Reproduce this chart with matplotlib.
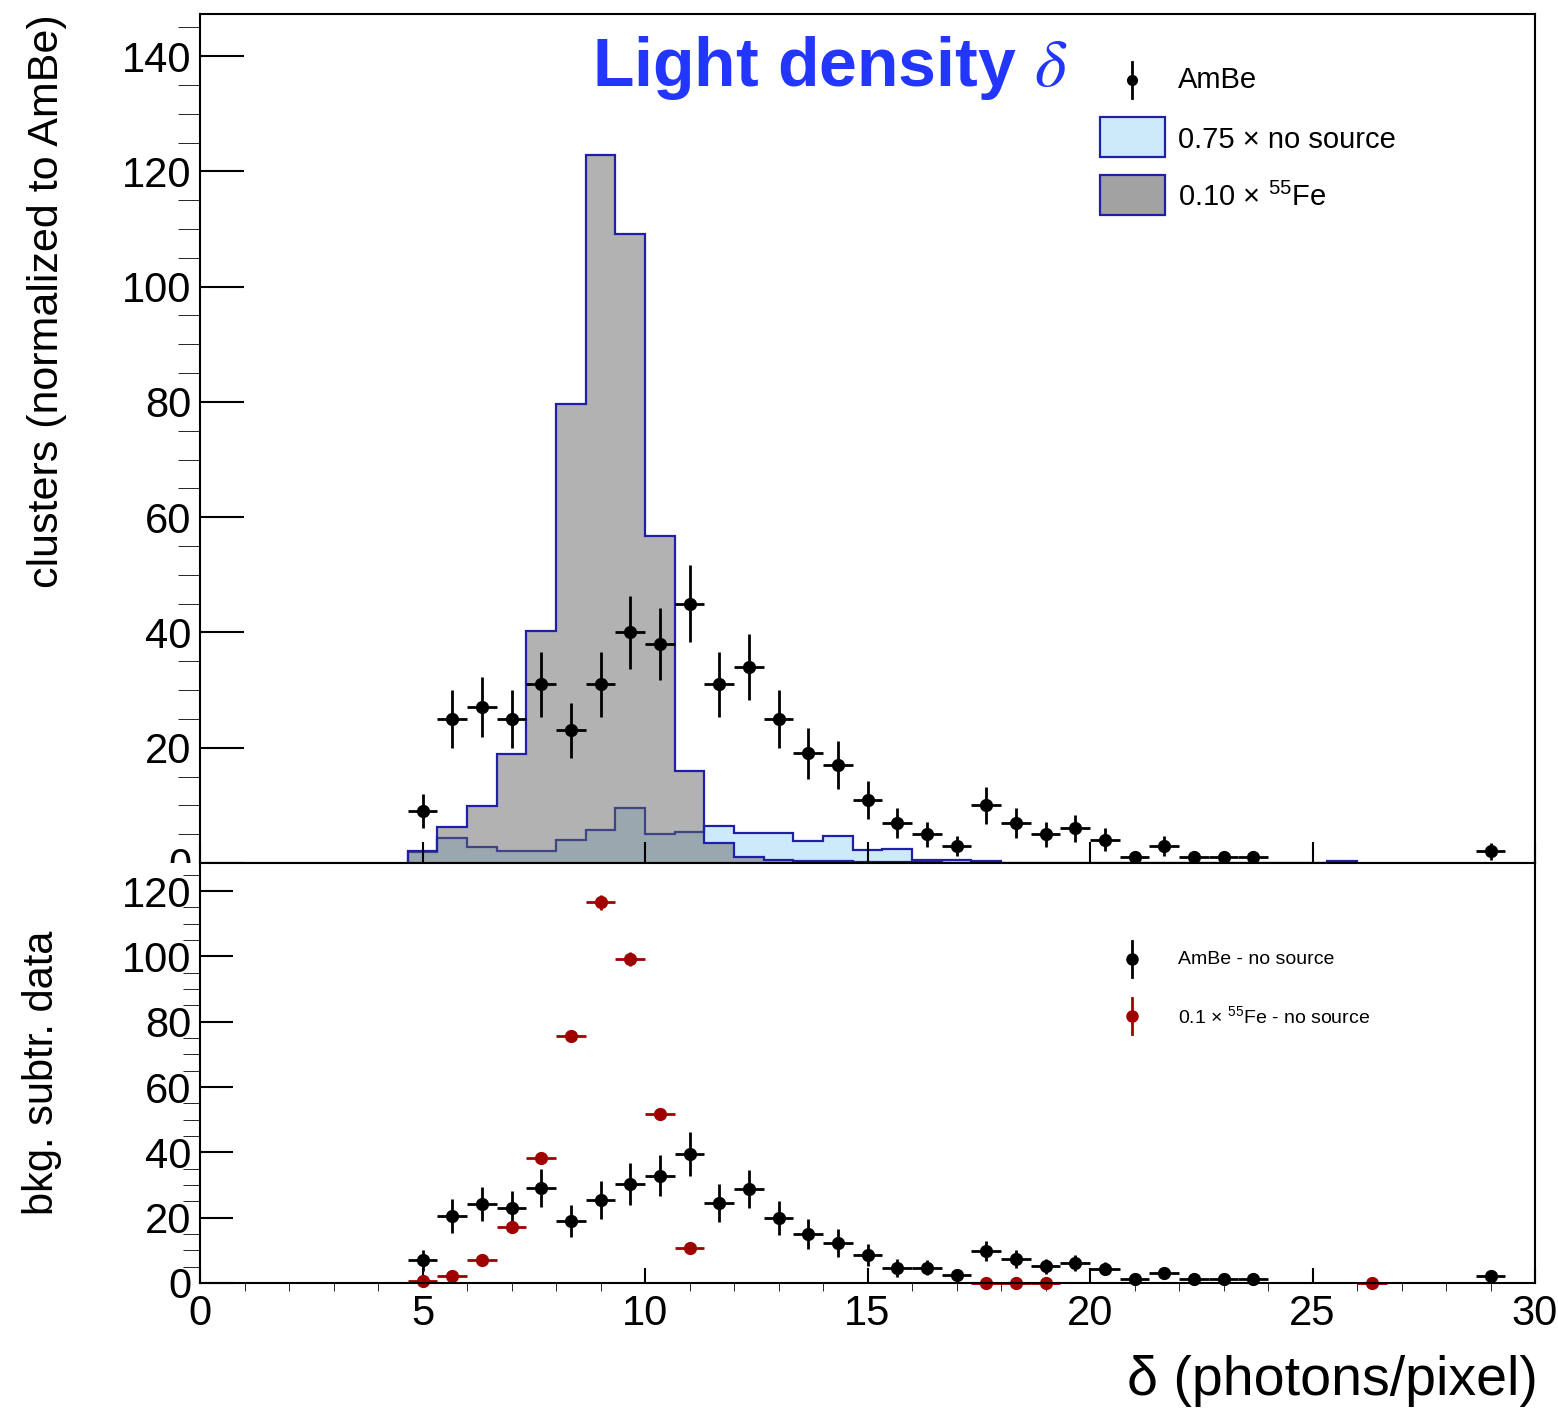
import numpy as np
import matplotlib
matplotlib.use("Agg")
import matplotlib.pyplot as plt
from matplotlib.patches import Rectangle
from matplotlib.lines import Line2D
from matplotlib.ticker import MultipleLocator

plt.rcParams['font.family'] = ['Liberation Sans', 'DejaVu Sans']
plt.rcParams['mathtext.fontset'] = 'custom'
plt.rcParams['mathtext.rm'] = 'Liberation Sans'
plt.rcParams['mathtext.it'] = 'Liberation Sans:italic'
plt.rcParams['mathtext.bf'] = 'Liberation Sans:bold'

# 45 bins of 2/3 photons/pixel between 0 and 30
edges = np.linspace(0, 30, 46)
centers = 0.5 * (edges[:-1] + edges[1:])

# histograms, first filled bin is bin 7 (delta = 4.67)
hist_first = 7
fe55_scaled = [2.0, 6.3, 9.9, 18.9, 40.2, 79.6, 122.8, 109.1, 56.7, 16.0,
               3.4, 1.1, 0.5, 0.3, 0.3, 0.2, 0.1, 0.1, 0.0, 0.0]
nosrc_scaled = [1.9, 4.3, 2.8, 2.0, 2.0, 4.0, 5.8, 9.5, 5.0, 5.3,
                6.4, 5.2, 5.2, 3.9, 4.7, 2.3, 2.5, 0.5, 0.5, 0.3,
                0, 0, 0, 0, 0, 0, 0, 0, 0, 0, 0, 0.3]

# AmBe data points (upper pad)
ambe_bins = list(range(7, 36)) + [43]
ambe = [9, 25, 27, 25, 31, 23, 31, 40, 38, 45, 31, 34, 25, 19, 17, 11, 7, 5, 3,
        10, 7, 5, 6, 4, 1, 3, 1, 1, 1, 2]
ambe_err = [3.0, 5.0, 5.2, 5.0, 5.6, 4.8, 5.6, 6.3, 6.2, 6.7, 5.6, 5.8, 5.0,
            4.4, 4.1, 3.3, 2.6, 2.2, 1.7, 3.2, 2.6, 2.2, 2.4, 2.0, 1.0, 1.7,
            1.0, 1.0, 1.0, 1.4]

# background subtracted (lower pad)
ambe_sub = [7.0, 20.5, 24.2, 23.0, 29.1, 19.0, 25.4, 30.3, 32.8, 39.5, 24.5,
            28.8, 19.9, 15.0, 12.2, 8.6, 4.6, 4.6, 2.4, 9.8, 7.3, 5.2, 6.1,
            4.3, 1.2, 3.1, 1.2, 1.2, 1.2, 2.1]
ambe_sub_err = [3.2, 5.1, 5.3, 5.1, 5.7, 4.9, 5.7, 6.5, 6.3, 6.8, 5.7, 5.9,
                5.1, 4.5, 4.2, 3.4, 2.7, 2.3, 1.8, 3.2, 2.7, 2.3, 2.5, 2.0,
                1.0, 1.7, 1.0, 1.0, 1.0, 1.4]

fe_sub_bins = list(range(7, 17)) + [26, 27, 28, 39]
fe_sub = [0.6, 2.1, 7.0, 17.1, 38.3, 75.6, 116.6, 99.2, 51.7, 10.7, 0, 0, 0, 0]
fe_sub_err = [0.4, 0.6, 0.9, 1.2, 1.5, 1.9, 2.3, 2.2, 1.6, 1.0,
              0.2, 0.2, 0.2, 0.2]

W, H = 1558, 1412
BLUE = '#1f1fa8'
RED = '#a00000'


def fx(x):
    return x / W


def fy(y):
    return (H - y) / H


fig = plt.figure(figsize=(W / 100, H / 100), dpi=100)
ax1 = fig.add_axes([fx(200), fy(863), 1335 / W, 849 / H])
ax2 = fig.add_axes([fx(200), fy(1283), 1335 / W, 420 / H])
ax2.set_zorder(2)

# ---- upper pad
ax1.stairs(nosrc_scaled, edges[hist_first:hist_first + len(nosrc_scaled) + 1],
           fill=True, facecolor='#cdeafa', edgecolor=BLUE, linewidth=1.6)
ax1.stairs(fe55_scaled, edges[hist_first:hist_first + len(fe55_scaled) + 1],
           fill=True, facecolor=(0.4, 0.4, 0.4, 0.5), edgecolor=BLUE,
           linewidth=1.6)
ax1.errorbar(centers[ambe_bins], ambe, yerr=ambe_err, xerr=1 / 3, fmt='o',
             color='black', ms=8.5, elinewidth=2, capsize=0)

ax1.set_xlim(0, 30)
ax1.set_ylim(0, 147.3)
ax1.xaxis.set_major_locator(MultipleLocator(5))
ax1.xaxis.set_minor_locator(MultipleLocator(1))
ax1.yaxis.set_major_locator(MultipleLocator(20))
ax1.yaxis.set_minor_locator(MultipleLocator(5))
ax1.tick_params(direction='in', width=1.5, labelsize=30, pad=6)
ax1.tick_params(axis='y', which='major', length=32)
ax1.tick_params(axis='y', which='minor', length=16)
ax1.tick_params(axis='x', which='major', length=15, labelbottom=False)
ax1.tick_params(axis='x', which='minor', length=7)
ax1.set_ylabel('clusters (normalized to AmBe)', fontsize=31,
               rotation_mode='anchor', ha='right', va='center')
ax1.yaxis.set_label_coords(-0.1146, 1.0)

# ---- lower pad
eb = ax2.errorbar(centers[ambe_bins], ambe_sub, yerr=ambe_sub_err, xerr=1 / 3,
                  fmt='o', color='black', ms=8.5, elinewidth=2, capsize=0)
eb2 = ax2.errorbar(centers[fe_sub_bins], fe_sub, yerr=fe_sub_err, xerr=1 / 3,
                   fmt='o', color=RED, ms=8.5, elinewidth=2, capsize=0)
for container in (eb, eb2):
    for art in container.get_children():
        art.set_clip_on(False)

ax2.set_xlim(0, 30)
ax2.set_ylim(0, 128.6)
ax2.xaxis.set_major_locator(MultipleLocator(5))
ax2.xaxis.set_minor_locator(MultipleLocator(1))
ax2.yaxis.set_major_locator(MultipleLocator(20))
ax2.yaxis.set_minor_locator(MultipleLocator(5))
ax2.tick_params(direction='in', width=1.5, labelsize=30, pad=6)
ax2.tick_params(axis='y', which='major', length=24)
ax2.tick_params(axis='y', which='minor', length=12)
ax2.tick_params(axis='x', which='major', length=11, pad=8)
ax2.tick_params(axis='x', which='minor', length=5.5)
ax2.set_ylabel('bkg. subtr. data', fontsize=30,
               rotation_mode='anchor', ha='right', va='center')
ax2.yaxis.set_label_coords(-0.118, 0.84)

for ax in (ax1, ax2):
    for sp in ax.spines.values():
        sp.set_linewidth(1.5)

# hide the lower half of the upper "0" label, like the pad overlap
fig.add_artist(Rectangle((fx(120), fy(900)), 80 / W, 37 / H,
                         transform=fig.transFigure, facecolor='white',
                         edgecolor='none', zorder=1))

fig.text(fx(1538), fy(1395), 'δ (photons/pixel)', fontsize=40,
         ha='right', va='baseline')

fig.text(fx(592), fy(86), r'Light density $\delta$', color='#2236fd',
         fontsize=49, fontweight='bold', va='baseline', math_fontfamily='stix')

# ---- legend, upper pad
fig.add_artist(Line2D([fx(1132)] * 2, [fy(62), fy(98)], color='black', lw=2))
fig.add_artist(Line2D([fx(1132)], [fy(80)], marker='o', ms=7, color='black'))
fig.text(fx(1178), fy(80), 'AmBe', fontsize=21, va='center')
fig.add_artist(Rectangle((fx(1100), fy(157)), 65 / W, 40 / H,
                         transform=fig.transFigure, facecolor='#cdeafa',
                         edgecolor=BLUE, lw=1.6))
fig.text(fx(1178), fy(140), '0.75 × no source', fontsize=21, va='center')
fig.add_artist(Rectangle((fx(1100), fy(215)), 65 / W, 40 / H,
                         transform=fig.transFigure, facecolor='#a2a2a2',
                         edgecolor=BLUE, lw=1.6))
fig.text(fx(1178), fy(197), r'0.10 × $^{55}$Fe', fontsize=21, va='center')

# ---- legend, lower pad
for ypix, col, lab in ((959, 'black', 'AmBe - no source'),
                       (1016, RED, r'0.1 × $^{55}$Fe - no source')):
    fig.add_artist(Line2D([fx(1132)] * 2, [fy(ypix - 18), fy(ypix + 18)],
                          color=col, lw=2, zorder=3))
    fig.add_artist(Line2D([fx(1132)], [fy(ypix)], marker='o', ms=8,
                          color=col, zorder=3))
    fig.text(fx(1178), fy(ypix), lab, fontsize=14, va='center', zorder=3)

fig.savefig('out.png', dpi=100)
